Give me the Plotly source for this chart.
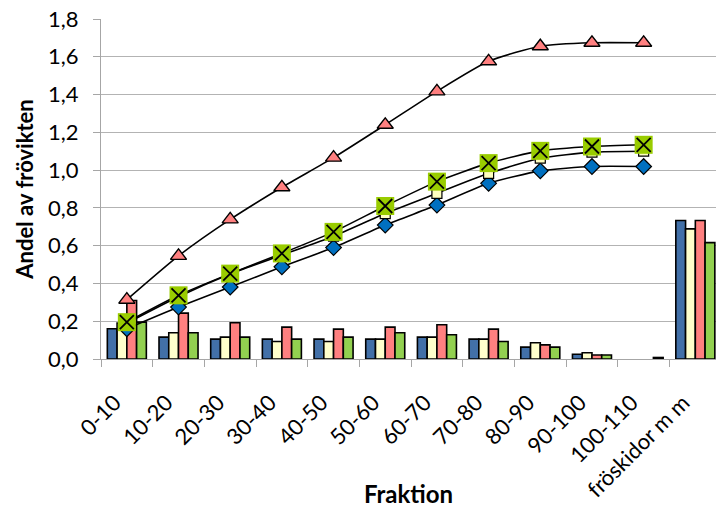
import plotly.graph_objects as go

# Fraction classes on the x axis
fraktion = ["0-10", "10-20", "20-30", "30-40", "40-50", "50-60", "60-70",
            "70-80", "80-90", "90-100", "100-110", "fröskidor m m"]

# Share of seed weight per fraction (bars), four samples; None = no bar
bar_blue = [0.16, 0.116, 0.105, 0.105, 0.105, 0.105, 0.116, 0.105, 0.063, 0.025, None, 0.733]
bar_yellow = [0.19, 0.139, 0.116, 0.093, 0.093, 0.105, 0.116, 0.105, 0.086, 0.033, None, 0.689]
bar_pink = [0.31, 0.243, 0.192, 0.169, 0.158, 0.169, 0.181, 0.158, 0.075, 0.021, None, 0.733]
bar_green = [0.195, 0.139, 0.116, 0.105, 0.116, 0.139, 0.128, 0.093, 0.063, 0.021, 0.008, 0.616]

# Accumulated share (lines), fractions 0-10 .. 100-110
line_cats = fraktion[:11]
cum_blue = [0.16, 0.275, 0.381, 0.488, 0.59, 0.709, 0.815, 0.93, 0.996, 1.019, 1.019]
cum_yellow = [0.19, 0.33, 0.45, 0.55, 0.65, 0.77, 0.877, 0.983, 1.063, 1.095, 1.10]
cum_pink = [0.314, 0.546, 0.739, 0.909, 1.066, 1.24, 1.417, 1.576, 1.656, 1.674, 1.674]
cum_green = [0.195, 0.337, 0.452, 0.559, 0.673, 0.81, 0.939, 1.037, 1.102, 1.125, 1.134]

y_ticks = [0.0, 0.2, 0.4, 0.6, 0.8, 1.0, 1.2, 1.4, 1.6, 1.8]

FONT = "Lato"
fig = go.Figure()

bar_style = dict(marker_line_color="black", marker_line_width=1.6, showlegend=False)
fig.add_trace(go.Bar(x=fraktion, y=bar_blue, marker_color="#4270A8", **bar_style))
fig.add_trace(go.Bar(x=fraktion, y=bar_yellow, marker_color="#FFFFCC", **bar_style))
fig.add_trace(go.Bar(x=fraktion, y=bar_pink, marker_color="#FF8080", **bar_style))
fig.add_trace(go.Bar(x=fraktion, y=bar_green, marker_color="#92D050", **bar_style))

line_style = dict(mode="lines+markers", line=dict(color="black", width=1.6, shape="spline", smoothing=0.6),
                  showlegend=False, cliponaxis=False)
fig.add_trace(go.Scatter(x=line_cats, y=cum_blue,
                         marker=dict(symbol="diamond", size=12, color="#0070C0",
                                     line=dict(color="black", width=1.2)), **line_style))
fig.add_trace(go.Scatter(x=line_cats, y=cum_yellow,
                         marker=dict(symbol="square", size=10, color="#FFFFC0",
                                     line=dict(color="black", width=1.2)), **line_style))
fig.add_trace(go.Scatter(x=line_cats, y=cum_pink,
                         marker=dict(symbol="triangle-up", size=14, color="#FF8080",
                                     line=dict(color="black", width=1.4)), **line_style))
fig.add_trace(go.Scatter(x=line_cats, y=cum_green,
                         marker=dict(symbol="square", size=18, color="#99CC00",
                                     line=dict(width=0)), **line_style))
# black cross drawn on the green squares
fig.add_trace(go.Scatter(x=line_cats, y=cum_green, mode="markers", showlegend=False, cliponaxis=False,
                         marker=dict(symbol="x-thin", size=14, color="black",
                                     line=dict(color="black", width=1.8))))

fig.update_layout(
    width=716, height=508,
    margin=dict(l=101, r=0, t=19, b=149, autoexpand=False),
    paper_bgcolor="white", plot_bgcolor="white",
    barmode="group", bargap=0.245, bargroupgap=0,
    separators=", ",
    font=dict(family=FONT, size=20, color="black"),
    showlegend=False,
)
fig.update_xaxes(
    type="category", categoryorder="array", categoryarray=fraktion,
    range=[-0.5, 11.4],
    tickson="boundaries", ticks="outside", ticklen=7, tickcolor="#A6A6A6",
    showline=True, linecolor="#A6A6A6", linewidth=1.3,
    showgrid=False, tickangle=-45, tickfont=dict(family=FONT, size=22),
    ticklabelstandoff=21, ticklabelshift=-12,
    title=dict(text="<b>Fraktion</b>", font=dict(family=FONT, size=24), standoff=8),
    automargin=False,
)
fig.update_yaxes(
    range=[0, 1.8], tickvals=y_ticks, tickformat=".1f",
    ticks="outside", ticklen=7, tickcolor="#A6A6A6",
    showline=True, linecolor="#A6A6A6", linewidth=1.3,
    showgrid=True, gridcolor="#B3B3B3", gridwidth=1.2, zeroline=False,
    tickfont=dict(family=FONT, size=22),
    ticklabelstandoff=10,
    title=dict(text="<b>Andel av frövikten</b>", font=dict(family=FONT, size=22), standoff=8),
    automargin=False,
)

fig.write_html("out.html")
